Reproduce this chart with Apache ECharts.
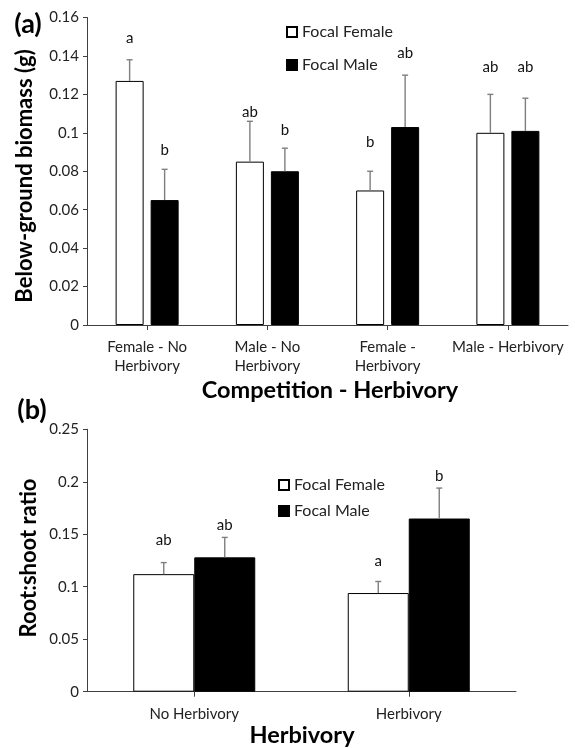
<!DOCTYPE html>
<html>
<head>
<meta charset="utf-8">
<script src="https://cdn.jsdelivr.net/npm/echarts@6/dist/echarts.min.js"></script>
<style>
  html, body { margin: 0; padding: 0; background: #fff; }
  #chart { width: 575px; height: 748px; }
</style>
</head>
<body>
<div id="chart"></div>
<script>
// Panel (a): below-ground biomass by competition / herbivory treatment
const catsA = ['Female - No\nHerbivory', 'Male - No\nHerbivory', 'Female -\nHerbivory', 'Male - Herbivory'];
const femaleA = [0.127, 0.085, 0.070, 0.100];
const maleA = [0.065, 0.080, 0.103, 0.101];
const femaleErrA = [0.011, 0.021, 0.010, 0.020];
const maleErrA = [0.016, 0.012, 0.027, 0.017];
const femaleLetA = ['a', 'ab', 'b', 'ab'];
const maleLetA = ['b', 'b', 'ab', 'ab'];
const femaleLetYA = [0.149, 0.111, 0.095, 0.134];
const maleLetYA = [0.091, 0.1015, 0.1415, 0.134];
const ticksA = { min: 0, max: 0.16, step: 0.02 };

// Panel (b): root:shoot ratio by herbivory treatment
const catsB = ['No Herbivory', 'Herbivory'];
const femaleB = [0.112, 0.094];
const maleB = [0.128, 0.165];
const femaleErrB = [0.011, 0.011];
const maleErrB = [0.019, 0.029];
const femaleLetB = ['ab', 'a'];
const maleLetB = ['ab', 'b'];
const femaleLetYB = [0.1446, 0.1246];
const maleLetYB = [0.1589, 0.2056];
const ticksB = { min: 0, max: 0.25, step: 0.05 };

const FONT = 'Lato, "Open Sans", sans-serif';
const AXIS = '#404040';
const ERR = '#7f7f7f';

const chart = echarts.init(document.getElementById('chart'), null, { renderer: 'canvas' });

function fmt(v) { return String(+v.toFixed(4)); }

// error bar (upward only) drawn at a bar's center, offset from the category center
function errBars(off) {
  return function (params, api) {
    const i = api.value(0), v = api.value(1), e = api.value(2);
    const base = api.coord([i, v]);
    const top = api.coord([i, v + e]);
    const x = base[0] + off;
    const st = { stroke: ERR, lineWidth: 1.4 };
    return {
      type: 'group',
      children: [
        { type: 'line', shape: { x1: x, y1: base[1], x2: x, y2: top[1] }, style: st },
        { type: 'line', shape: { x1: x - 3, y1: top[1], x2: x + 3, y2: top[1] }, style: st }
      ]
    };
  };
}

// significance letter placed above a bar
function letters(off, texts) {
  return function (params, api) {
    const p = api.coord([api.value(0), api.value(1)]);
    return {
      type: 'text',
      x: p[0] + off,
      y: p[1],
      style: {
        text: texts[params.dataIndex],
        font: '15px ' + FONT,
        fill: '#111',
        align: 'center',
        verticalAlign: 'middle'
      }
    };
  };
}

function rows(vals, extra) {
  return vals.map((v, i) => extra ? [i, v, extra[i]] : [i, v]);
}

const barA = 28, gapA = 7;   // panel (a) bar width and gap
const barB = 61;             // panel (b) bar width (bars touch)
const offA = (barA + gapA) / 2;
const offB = barB / 2;

function valueAxis(gridIndex, t) {
  return {
    type: 'value', gridIndex, min: t.min, max: t.max, interval: t.step,
    axisLine: { show: true, lineStyle: { color: AXIS, width: 1 } },
    axisTick: { show: true, length: 4, lineStyle: { color: AXIS } },
    axisLabel: { formatter: fmt, color: '#222', fontFamily: FONT, fontSize: 15, margin: 8 },
    splitLine: { show: false }
  };
}

function catAxis(gridIndex, cats, lineH) {
  return {
    type: 'category', gridIndex, data: cats,
    axisLine: { show: true, lineStyle: { color: AXIS, width: 1 } },
    axisTick: { show: true, alignWithLabel: true, length: 5, lineStyle: { color: AXIS } },
    axisLabel: { color: '#222', fontFamily: FONT, fontSize: 15, lineHeight: lineH, margin: 13, interval: 0 }
  };
}

const whiteStyle = { color: '#ffffff', borderColor: '#000', borderWidth: 1 };
const blackStyle = { color: '#000000', borderColor: '#000', borderWidth: 1 };

const legendText = { fontFamily: FONT, fontSize: 16, color: '#222', lineHeight: 14 };

const option = {
  animation: false,
  backgroundColor: '#fff',
  grid: [
    { left: 87, top: 17.5, width: 481, height: 307.5 },
    { left: 87, top: 429.3, width: 429, height: 262.4 }
  ],
  xAxis: [catAxis(0, catsA, 19), catAxis(1, catsB, 19)],
  yAxis: [valueAxis(0, ticksA), valueAxis(1, ticksB)],
  legend: [
    {
      left: 281, top: 19, orient: 'vertical', itemWidth: 10, itemHeight: 10, itemGap: 17,
      icon: 'rect', data: ['Focal Female', 'Focal Male'], selectedMode: false, textStyle: legendText
    },
    {
      left: 273, top: 472, orient: 'vertical', itemWidth: 10, itemHeight: 10, itemGap: 10,
      icon: 'rect', data: ['Focal Female', 'Focal Male'], selectedMode: false, textStyle: legendText
    }
  ],
  graphic: [
    { type: 'text', x: 28, y: 24, style: { text: '(a)', font: 'bold 27px ' + FONT, fill: '#000', align: 'center', verticalAlign: 'middle' } },
    { type: 'text', x: 32, y: 410, style: { text: '(b)', font: 'bold 27px ' + FONT, fill: '#000', align: 'center', verticalAlign: 'middle' } },
    { type: 'text', x: 25, y: 176, rotation: Math.PI / 2, style: { text: 'Below-ground biomass (g)', font: 'bold 22px ' + FONT, fill: '#000', align: 'center', verticalAlign: 'middle' } },
    { type: 'text', x: 29, y: 558, rotation: Math.PI / 2, style: { text: 'Root:shoot ratio', font: 'bold 22px ' + FONT, fill: '#000', align: 'center', verticalAlign: 'middle' } },
    { type: 'text', x: 330, y: 390, style: { text: 'Competition - Herbivory', font: 'bold 23.5px ' + FONT, fill: '#000', align: 'center', verticalAlign: 'middle' } },
    { type: 'text', x: 302, y: 735, style: { text: 'Herbivory', font: 'bold 23.5px ' + FONT, fill: '#000', align: 'center', verticalAlign: 'middle' } }
  ],
  series: [
    { name: 'Focal Female', type: 'bar', xAxisIndex: 0, yAxisIndex: 0, data: femaleA, barWidth: barA, barGap: (gapA / barA * 100) + '%', itemStyle: whiteStyle },
    { name: 'Focal Male', type: 'bar', xAxisIndex: 0, yAxisIndex: 0, data: maleA, barWidth: barA, barGap: (gapA / barA * 100) + '%', itemStyle: blackStyle },
    { name: 'errA-f', type: 'custom', xAxisIndex: 0, yAxisIndex: 0, data: rows(femaleA, femaleErrA), renderItem: errBars(-offA), z: 5 },
    { name: 'errA-m', type: 'custom', xAxisIndex: 0, yAxisIndex: 0, data: rows(maleA, maleErrA), renderItem: errBars(offA), z: 5 },
    { name: 'letA-f', type: 'custom', xAxisIndex: 0, yAxisIndex: 0, data: rows(femaleLetYA), renderItem: letters(-offA, femaleLetA), z: 5 },
    { name: 'letA-m', type: 'custom', xAxisIndex: 0, yAxisIndex: 0, data: rows(maleLetYA), renderItem: letters(offA, maleLetA), z: 5 },

    { name: 'Focal Female', type: 'bar', xAxisIndex: 1, yAxisIndex: 1, data: femaleB, barWidth: barB, barGap: '0%', itemStyle: whiteStyle },
    { name: 'Focal Male', type: 'bar', xAxisIndex: 1, yAxisIndex: 1, data: maleB, barWidth: barB, barGap: '0%', itemStyle: blackStyle },
    { name: 'errB-f', type: 'custom', xAxisIndex: 1, yAxisIndex: 1, data: rows(femaleB, femaleErrB), renderItem: errBars(-offB), z: 5 },
    { name: 'errB-m', type: 'custom', xAxisIndex: 1, yAxisIndex: 1, data: rows(maleB, maleErrB), renderItem: errBars(offB), z: 5 },
    { name: 'letB-f', type: 'custom', xAxisIndex: 1, yAxisIndex: 1, data: rows(femaleLetYB), renderItem: letters(-offB, femaleLetB), z: 5 },
    { name: 'letB-m', type: 'custom', xAxisIndex: 1, yAxisIndex: 1, data: rows(maleLetYB), renderItem: letters(offB, maleLetB), z: 5 }
  ]
};

chart.setOption(option);
</script>
</body>
</html>
